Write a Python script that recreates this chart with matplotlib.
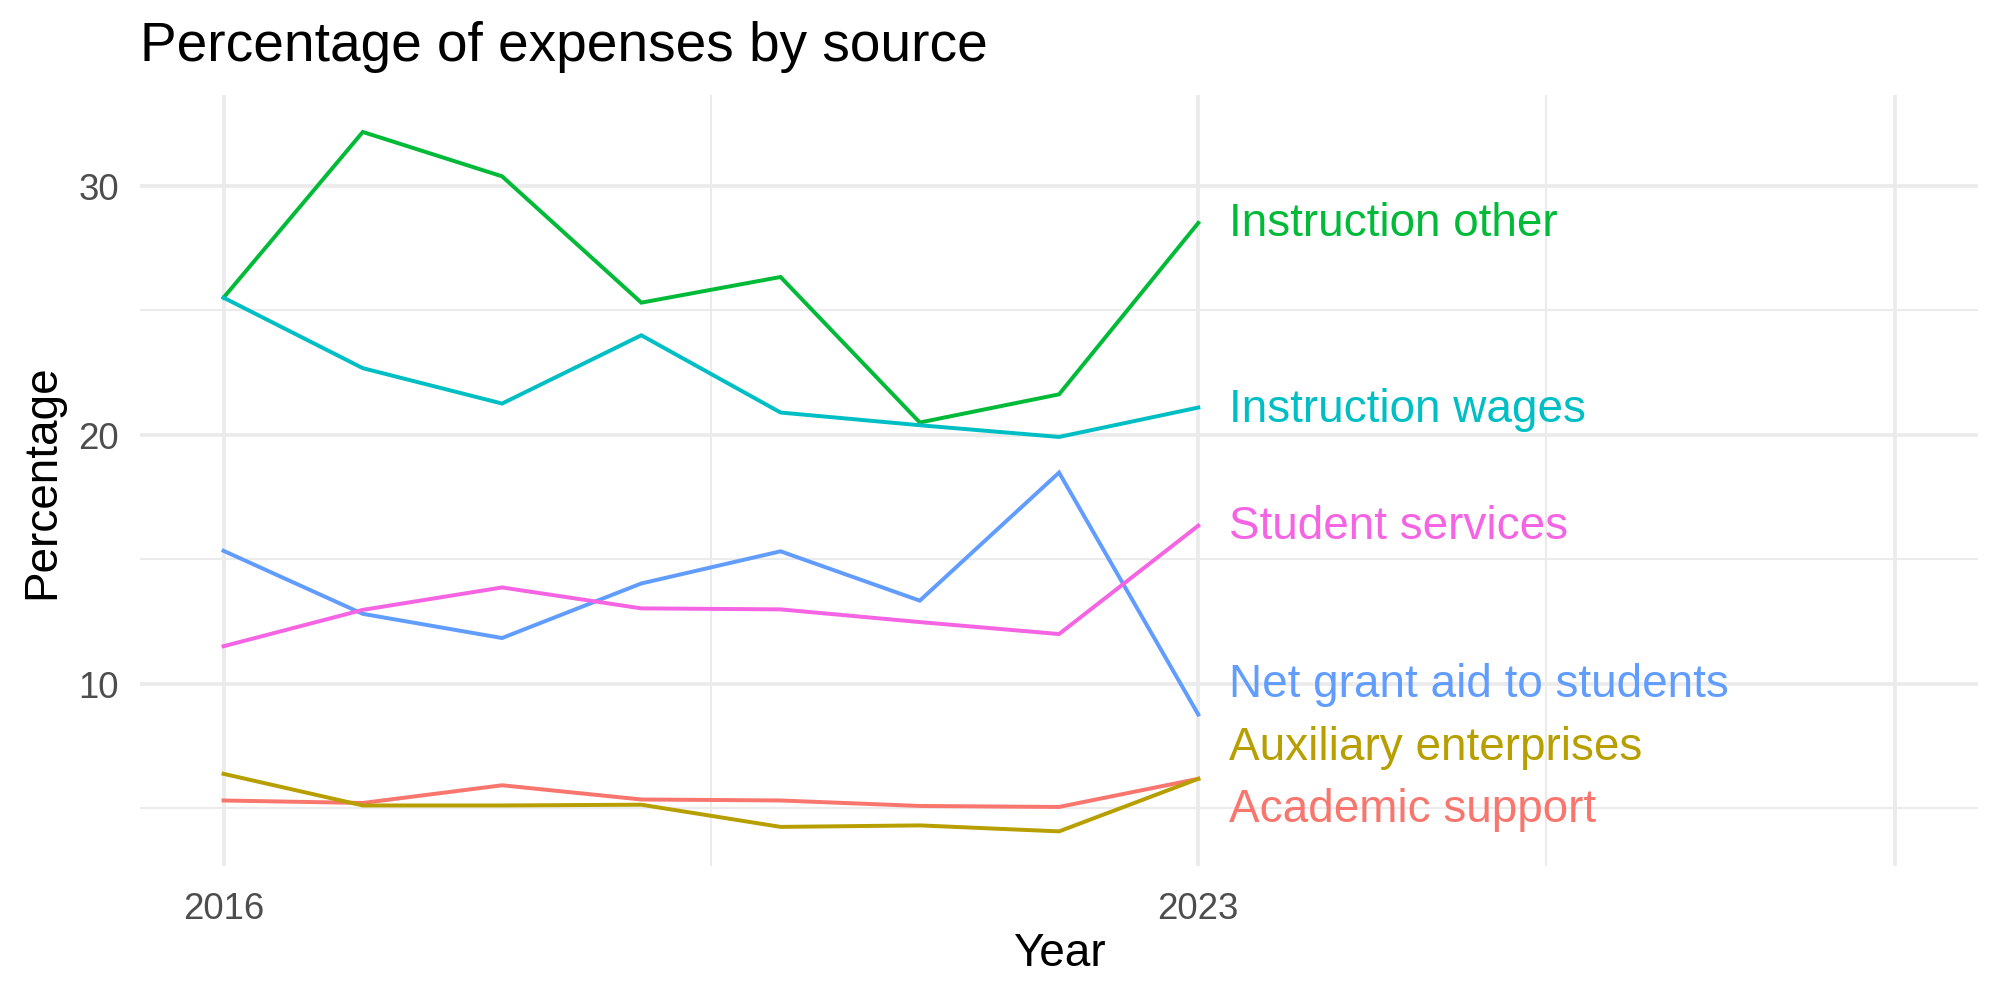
import matplotlib
matplotlib.use("Agg")
import matplotlib.pyplot as plt

plt.rcParams['font.family'] = ['Liberation Sans', 'DejaVu Sans']

# data
years = [2016, 2017, 2018, 2019, 2020, 2021, 2022, 2023]
sources = ["Academic support", "Auxiliary enterprises", "Instruction other",
           "Instruction wages", "Net grant aid to students", "Student services"]
academic_support = [5.32, 5.22, 5.93, 5.36, 5.32, 5.10, 5.06, 6.19]
auxiliary_enterprises = [6.39, 5.12, 5.12, 5.15, 4.26, 4.32, 4.08, 6.19]
instruction_other = [25.50, 32.15, 30.37, 25.30, 26.33, 20.49, 21.62, 28.50]
instruction_wages = [25.50, 22.67, 21.25, 23.99, 20.89, 20.38, 19.91, 21.09]
net_grant_aid = [15.34, 12.81, 11.84, 14.03, 15.32, 13.34, 18.48, 8.77]
student_services = [11.51, 12.97, 13.87, 13.03, 12.99, 12.48, 12.00, 16.35]
# label heights after repelling
label_y = [4.98, 7.45, 28.48, 21.02, 10.0, 16.35]

series = [academic_support, auxiliary_enterprises, instruction_other,
          instruction_wages, net_grant_aid, student_services]
colors = ["#F8766D", "#B79F00", "#00BA38", "#00BFC4", "#619CFF", "#F564E3"]

fig = plt.figure(figsize=(6.667, 3.333), dpi=300)
ax = fig.add_axes([0.070, 0.133, 0.919, 0.771])

# grid like theme_minimal
for x in [2016, 2023, 2028]:
    ax.axvline(x, color="#EBEBEB", lw=0.9, zorder=0)
for x in [2019.5, 2025.5]:
    ax.axvline(x, color="#EBEBEB", lw=0.5, zorder=0)
for y in [10, 20, 30]:
    ax.axhline(y, color="#EBEBEB", lw=0.9, zorder=0)
for y in [5, 15, 25]:
    ax.axhline(y, color="#EBEBEB", lw=0.5, zorder=0)

for name, vals, col, ly in zip(sources, series, colors, label_y):
    ax.plot(years, vals, color=col, lw=0.95, solid_joinstyle="miter")
    ax.text(years[-1] + 0.22, ly, name, color=col, fontsize=11.0,
            ha="left", va="center")

ax.set_xlim(2015.4, 2028.6)
ax.set_ylim(2.69, 33.63)
ax.set_xticks([2016, 2023])
ax.set_yticks([10, 20, 30])
ax.tick_params(length=0, labelsize=8.8, labelcolor="#4D4D4D")
ax.tick_params(axis="y", pad=5)
ax.tick_params(axis="x", pad=6)
for s in ax.spines.values():
    s.set_visible(False)

fig.text(0.070, 0.953, "Percentage of expenses by source", fontsize=13.2,
         ha="left", va="center")
fig.text(0.5295, 0.046, "Year", fontsize=11, ha="center", va="center")
fig.text(0.021, 0.518, "Percentage", fontsize=11, ha="center", va="center",
         rotation=90)

fig.savefig("out.png", dpi=300)
